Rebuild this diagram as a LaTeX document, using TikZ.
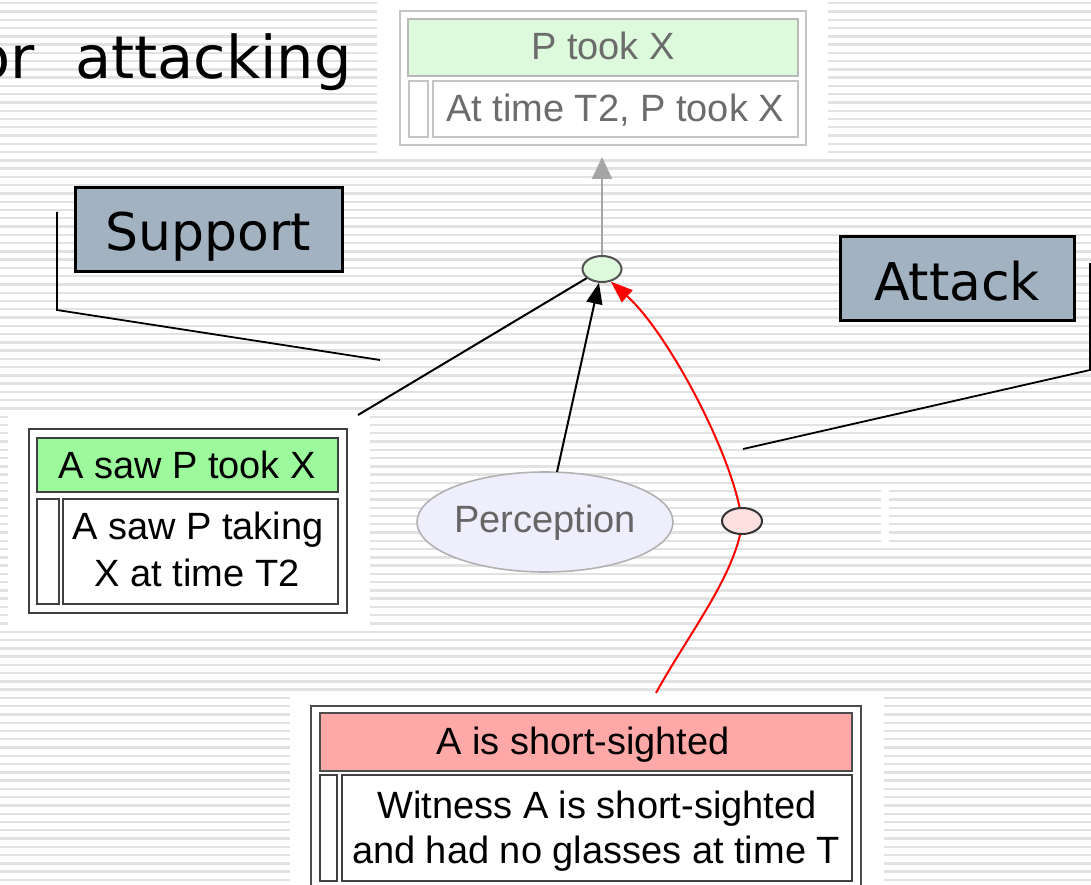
\documentclass[tikz,border=0pt]{standalone}
\usepackage{fontspec}
\setmainfont{Liberation Sans}
\newfontfamily\labelfont{DejaVu Sans}
\usetikzlibrary{arrows.meta,shapes.geometric}

\definecolor{stripecol}{RGB}{226,226,226}
\definecolor{slate}{RGB}{163,178,193}
\definecolor{palegreen}{RGB}{221,250,221}
\definecolor{brightgreen}{RGB}{156,250,156}
\definecolor{rosehead}{RGB}{255,168,168}
\definecolor{paleblush}{RGB}{255,224,224}
\definecolor{lavender}{RGB}{238,238,252}
\definecolor{fadedtext}{RGB}{108,108,108}
\definecolor{fadedline}{RGB}{196,196,196}
\definecolor{arrowgray}{RGB}{165,165,165}

\tikzset{
  stripe/.style={draw=stripecol, line width=2.4pt},
  cell/.style={rectangle, anchor=north west, inner sep=0pt, outer sep=0pt, line width=2pt},
  fadedcell/.style={cell, draw=fadedline, fill=white},
  darkcell/.style={cell, draw=black!75, fill=white},
  labelbox/.style={cell, draw=black, line width=3pt, fill=slate},
  boxtext/.style={inner sep=0pt, anchor=base, font=\fontsize{38}{45}\selectfont},
  labeltext/.style={inner sep=0pt, anchor=base, font=\labelfont\fontsize{52}{60}\selectfont},
  junction/.style={ellipse, inner sep=0pt, line width=2pt, minimum width=39pt, minimum height=26pt},
  callout/.style={draw=black, line width=1.8pt},
  grayarrow/.style={draw=arrowgray, line width=2.2pt, -{Triangle[length=22pt,width=20pt]}},
  blackarrow/.style={draw=black, line width=2pt, -{Triangle[length=21pt,width=16pt]}},
  redline/.style={draw=red, line width=2pt},
  redarrow/.style={redline, -{Triangle[length=22pt,width=16pt]}},
}

\begin{document}
\begin{tikzpicture}[x=1pt,y=-1pt]
\useasboundingbox (0,0) rectangle (1091,885);
\begin{scope}
\clip (0,0) rectangle (1091,885);

% striped slide background
\fill[white] (0,0) rectangle (1091,885);
\foreach \k in {0,...,106}{
  \pgfmathsetmacro\yy{3.25+8.27*\k}
  \draw[stripe] (0,\yy) -- (1091,\yy);
}
% white panels behind the pasted graph pieces
\fill[white] (377,0) rectangle (828,158);
\fill[white] (8,410) rectangle (370,625);
\fill[white] (290,696) rectangle (884,890);
\fill[white] (881,487) rectangle (889,543);

% slide title fragment, running in from the left edge
\node[inner sep=0pt, anchor=base east, font=\labelfont\fontsize{59}{70}\selectfont] (title) at (352,79) {or\hspace{22pt} attacking};

% conclusion: P took X (faded)
\node[fadedcell, minimum width=406pt, minimum height=134pt] (topbox) at (400,11) {};
\node[fadedcell, draw=black!28, fill=palegreen, minimum width=390pt, minimum height=57pt] (tophead) at (408,19) {};
\node[fadedcell, minimum width=19pt, minimum height=56pt] (topside) at (409,81) {};
\node[fadedcell, minimum width=365pt, minimum height=56pt] (topbody) at (433,81) {};
\node[boxtext, text=fadedtext] (topheadtxt) at (603,60) {P took X};
\node[boxtext, text=fadedtext] (topbodytxt) at (615,122) {At time T2, P took X};

% premise: A saw P took X
\node[darkcell, minimum width=318pt, minimum height=184pt] (lbox) at (29,429) {};
\node[darkcell, fill=brightgreen, minimum width=301pt, minimum height=54pt] (lhead) at (37,438) {};
\node[darkcell, minimum width=22pt, minimum height=105pt] (lside) at (37,499) {};
\node[darkcell, minimum width=275pt, minimum height=105pt] (lbody) at (63,499) {};
\node[boxtext] (lheadtxt) at (187,478) {A saw P took X};
\node[boxtext] (lbodyone) at (198,539) {A saw P taking};
\node[boxtext] (lbodytwo) at (197,586) {X at time T2};

% attacker: A is short-sighted
\node[darkcell, draw=black!70, minimum width=550pt, minimum height=186pt] (bbox) at (311,706) {};
\node[darkcell, draw=black!70, fill=rosehead, minimum width=532pt, minimum height=58pt] (bhead) at (320,713) {};
\node[darkcell, minimum width=17pt, minimum height=106pt] (bside) at (320,775) {};
\node[darkcell, minimum width=510pt, minimum height=106pt] (bbody) at (342,775) {};
\node[boxtext] (bheadtxt) at (583,754) {A is short-sighted};
\node[boxtext] (bbodyone) at (597,818) {Witness A is short-sighted};
\node[boxtext] (bbodytwo) at (596,863) {and had no glasses at time T};

% argumentation scheme
\node[ellipse, draw=black!30, line width=1.6pt, fill=lavender, inner sep=0pt, minimum width=256pt, minimum height=100pt] (perc) at (545,522) {};
\node[boxtext, text=black!60] (perctxt) at (545,532) {Perception};

% junctions
\node[junction, draw=black!68, fill=palegreen] (sj) at (602,269) {};
\node[junction, draw=black!80, fill=paleblush, minimum width=40pt] (aj) at (742,521) {};

% labels
\node[labelbox, minimum width=267pt, minimum height=83pt] (supbox) at (75,188) {};
\node[labeltext] (suptxt) at (208,251) {Support};
\node[labelbox, minimum width=234pt, minimum height=83pt] (attbox) at (840,237) {};
\node[labeltext] (atttxt) at (957,300) {Attack};

% callout lines
\coordinate (supa) at (57,212);
\coordinate (supb) at (57,310);
\coordinate (supc) at (380,360);
\draw[callout] (supa) -- (supb) -- (supc);
\coordinate (atta) at (1090,263);
\coordinate (attb) at (1090,370);
\coordinate (attc) at (743,449);
\draw[callout] (atta) -- (attb) -- (attc);

% connectors
\draw[grayarrow, shorten >=12pt] (sj.north) -- (topbox.south -| sj.north);
\coordinate (lout) at (358,415);
\draw[callout, line width=2pt] (lout) -- (sj);
\coordinate (pout) at (557,472);
\draw[blackarrow] (pout) -- (sj);
\coordinate (bout) at (656,693);
\draw[redline] (bout) .. controls (685,640) and (728,585) .. (aj.262);
\draw[redarrow] (aj.100) .. controls (725,440) and (665,330) .. (sj.-55);
\end{scope}
\end{tikzpicture}
\end{document}
